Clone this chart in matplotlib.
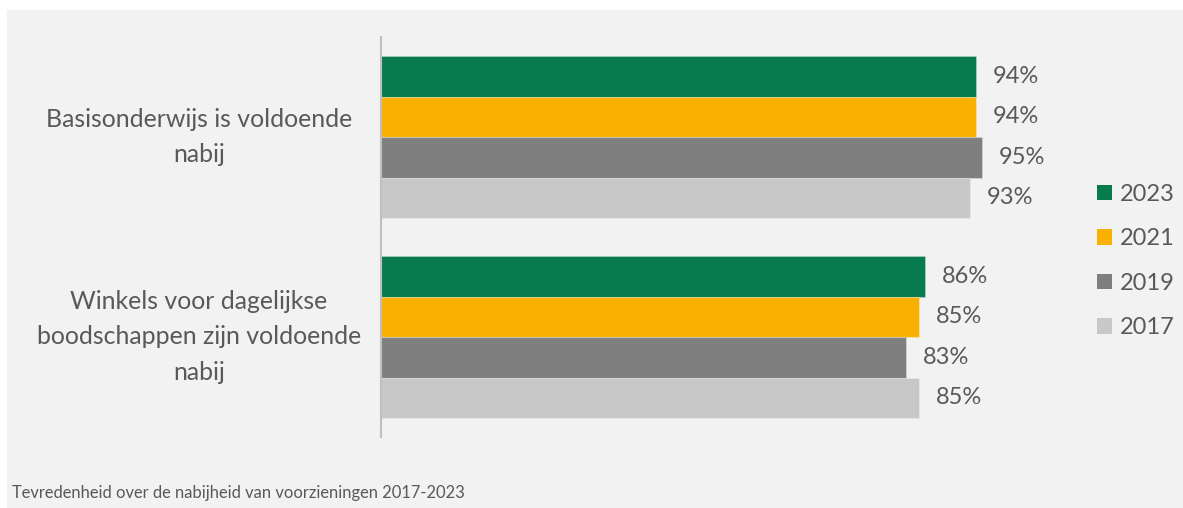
import matplotlib
matplotlib.use("Agg")
import matplotlib.pyplot as plt
from matplotlib.patches import Patch, Rectangle
from matplotlib.transforms import blended_transform_factory

# categorieën en scores per jaar
categorieen = ["Basisonderwijs is voldoende\nnabij",
               "Winkels voor dagelijkse\nboodschappen zijn voldoende\nnabij"]
jaren = ["2023", "2021", "2019", "2017"]
scores_2023 = [94, 86]
scores_2021 = [94, 85]
scores_2019 = [95, 83]
scores_2017 = [93, 85]
kleuren = ["#077A4E", "#F8B100", "#7F7F7F", "#C8C8C8"]
titel = "Tevredenheid over de nabijheid van voorzieningen 2017-2023"

TEKST = "#595959"
FONT = "Lato"

fig = plt.figure(figsize=(11.83, 5.08), dpi=100)
fig.patch.set_facecolor("white")
# grijze achtergrond met smalle witte rand boven en links
fig.patches.append(Rectangle((7 / 1183, 0), 1, 1 - 10 / 508, transform=fig.transFigure,
                             facecolor="#F2F2F2", edgecolor="none", zorder=-1))

ax = fig.add_axes([381 / 1183, 71 / 508, 633 / 1183, 400 / 508])
ax.set_facecolor("none")

reeksen = [scores_2023, scores_2021, scores_2019, scores_2017]
h = 0.2025
for i, (jaar, waarden, kleur) in enumerate(zip(jaren, reeksen, kleuren)):
    pos = [c + (i - 1.5) * h for c in range(len(categorieen))]
    ax.barh(pos, waarden, height=h, color=kleur, edgecolor=(1, 1, 1, 0.25), linewidth=0.8)
    for y, v in zip(pos, waarden):
        ax.annotate(f"{v}%", (v, y), xytext=(12, 0), textcoords="offset points",
                    ha="left", va="center", fontsize=17, color=TEKST, family=FONT)

ax.set_xlim(0, 100)
ax.set_ylim(1.5, -0.5)
for kant in ["top", "right", "bottom"]:
    ax.spines[kant].set_visible(False)
ax.spines["left"].set_color("#BFBFBF")
ax.spines["left"].set_linewidth(1.5)
ax.set_xticks([])
ax.set_yticks([])

# categorielabels, gecentreerd links van de as
trans = blended_transform_factory(fig.transFigure, ax.transData)
for c, label in enumerate(categorieen):
    ax.text(199 / 1183, c, label, transform=trans, ha="center", va="center",
            multialignment="center", fontsize=17.9, color=TEKST, family=FONT,
            linespacing=1.68)

handles = [Patch(facecolor=k, edgecolor="none") for k in kleuren]
fig.legend(handles, jaren, loc="center left", bbox_to_anchor=(1097 / 1183, 1 - 261 / 508),
           borderaxespad=0, borderpad=0,
           frameon=False, prop={"family": FONT, "size": 17}, labelcolor=TEKST,
           handlelength=0.62, handleheight=0.62, handletextpad=0.34, labelspacing=1.0)

fig.text(12 / 1183, 1 - 493 / 508, titel, ha="left", va="center",
         fontsize=11.9, color=TEKST, family=FONT)

fig.savefig("out.png", dpi=100)
